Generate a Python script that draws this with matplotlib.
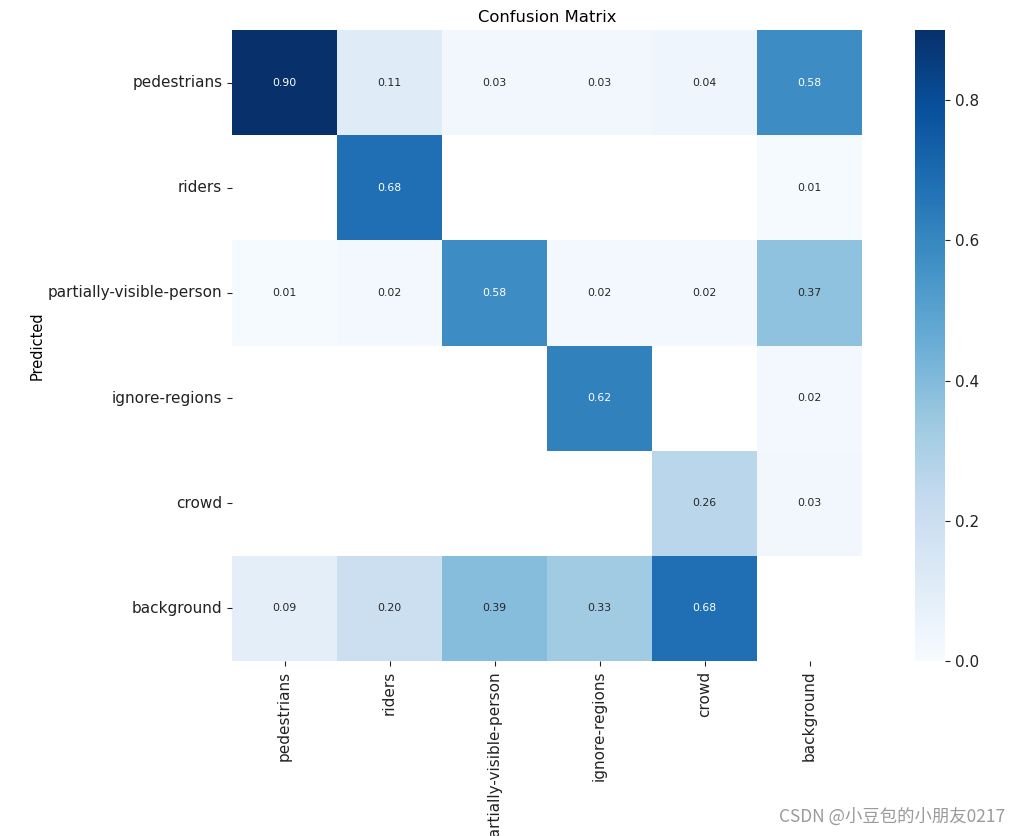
import numpy as np
import matplotlib
matplotlib.use("Agg")
import matplotlib.pyplot as plt
from matplotlib.ticker import FixedLocator
import seaborn as sns

names = ["pedestrians", "riders", "partially-visible-person", "ignore-regions", "crowd", "background"]
row_pedestrians = [0.90, 0.11, 0.03, 0.03, 0.04, 0.58]
row_riders = [np.nan, 0.68, np.nan, np.nan, np.nan, 0.01]
row_pvp = [0.01, 0.02, 0.58, 0.02, 0.02, 0.37]
row_ignore = [np.nan, np.nan, np.nan, 0.62, np.nan, 0.02]
row_crowd = [np.nan, np.nan, np.nan, np.nan, 0.26, 0.03]
row_background = [0.09, 0.20, 0.39, 0.33, 0.68, np.nan]
cbar_ticks = [0.0, 0.2, 0.4, 0.6, 0.8]

matrix = np.array([row_pedestrians, row_riders, row_pvp, row_ignore, row_crowd, row_background])

plt.rcParams['font.family'] = ['DejaVu Sans']
fig = plt.figure(figsize=(10.21, 8.36), dpi=100)
ax = fig.add_axes([232/1021, 1-661/836, 630/1021, 631/836])
cax = fig.add_axes([915/1021, 1-661/836, 30/1021, 631/836])

sns.heatmap(matrix, ax=ax, cbar_ax=cax, cmap="Blues", vmin=0.0, annot=True,
            fmt=".2f", annot_kws={"size": 7.8}, square=False,
            xticklabels=names, yticklabels=names)

ax.set_title("Confusion Matrix", fontsize=11.8)
ax.set_ylabel("Predicted", fontsize=10.5)
ax.tick_params(axis='both', labelsize=11, length=3.5, width=0.8, colors='#222222')
plt.setp(ax.get_xticklabels(), rotation=90)
plt.setp(ax.get_yticklabels(), rotation=0)
cax.yaxis.set_major_locator(FixedLocator(cbar_ticks))
cax.tick_params(labelsize=11, length=3.5, width=0.8, colors='#222222')
ax.yaxis.set_label_coords(-0.298, 0.5)

fig.text(1005/1021, 1-817/836, "CSDN @小豆包的小朋友0217", ha='right', va='center',
         fontsize=12.5, color='#9a9a9a', family=['Noto Sans CJK SC', 'DejaVu Sans'])

fig.savefig("out.png", dpi=100)
